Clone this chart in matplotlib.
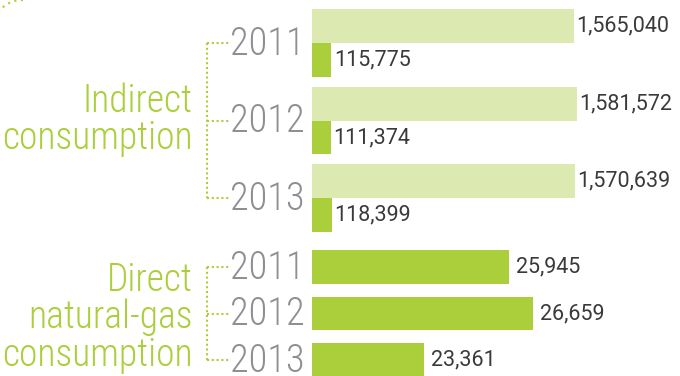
import os
import numpy as np
import matplotlib
matplotlib.use("Agg")
import matplotlib.pyplot as plt
from matplotlib import font_manager as fm
from matplotlib.transforms import blended_transform_factory, ScaledTranslation

# --- data -------------------------------------------------------------
years = ["2011", "2012", "2013"]
indirect_total = [1565040, 1581572, 1570639]   # total indirect consumption
indirect_gas = [115775, 111374, 118399]        # natural-gas share of it
direct_gas = [25945, 26659, 23361]             # direct natural-gas consumption
group_labels = ["Indirect\nconsumption", "Direct\nnatural-gas\nconsumption"]

# --- style ------------------------------------------------------------
LIGHT = "#dce9b1"
GREEN = "#abce3b"
GRAY = "#8e8f93"
TEXT = "#3a3a3a"

W, H = 680, 376
DIRECT_BASE = 20000


def narrow_font():
    prefs = ["RobotoCondensed-Light", "RobotoCondensed-Regular", "RobotoCondensed",
             "LiberationSansNarrow-Regular", "LiberationSansNarrow",
             "DejaVuSansCondensed.ttf", "Condensed", "Narrow"]
    for key in prefs:
        for f in fm.fontManager.ttflist:
            base = os.path.basename(f.fname)
            if key in base:
                if any(s in base for s in ("Italic", "Oblique", "Bold", "Black", "Medium", "Thin")):
                    continue
                return f.fname
    return None


NARROW = narrow_font()


def label_props(size):
    if NARROW:
        return fm.FontProperties(fname=NARROW, size=size * 1.15)
    return fm.FontProperties(family="Roboto", weight="light", size=size)


fig = plt.figure(figsize=(W / 100, H / 100), dpi=100)


def rect(x0, y0, x1, y1):
    return [x0 / W, 1 - y1 / H, (x1 - x0) / W, (y1 - y0) / H]


# overlay in pixel units for labels and connectors
ov = fig.add_axes([0, 0, 1, 1])
ov.set_xlim(0, W)
ov.set_ylim(H, 0)
ov.axis("off")

# --- indirect consumption bars -----------------------------------------
P = 2.28
idx = np.arange(len(years))
ax1 = fig.add_axes(rect(312, 9, 680, 232))
ax1.set_xlim(0, 2.2e6)
ax1.set_ylim(2 * P + 1, -1)
ax1.axis("off")
b_tot = ax1.barh(idx * P - 0.5, indirect_total, height=1, color=LIGHT)
b_gas = ax1.barh(idx * P + 0.5, indirect_gas, height=1, color=GREEN)
val_font = dict(family="Roboto", weight="normal", size=15.5, color=TEXT)
ax1.bar_label(b_tot, labels=[f"{v:,}" for v in indirect_total], padding=2, **val_font)
ax1.bar_label(b_gas, labels=[f"{v:,}" for v in indirect_gas], padding=2, **val_font)

# --- direct natural-gas bars --------------------------------------------
Q = 1.39
ax2 = fig.add_axes(rect(312, 250, 680, 377))
ax2.set_xlim(DIRECT_BASE, DIRECT_BASE + 11084)
ax2.set_ylim(2 * Q + 0.5, -0.5)
ax2.axis("off")
direct_arr = np.array(direct_gas)
b_dir = ax2.barh(idx * Q, direct_arr - DIRECT_BASE, left=DIRECT_BASE, height=1, color=GREEN)
ax2.bar_label(b_dir, labels=[f"{v:,}" for v in direct_gas], padding=5, **val_font)

# --- year labels, connectors and group titles ---------------------------
YEAR_SIZE = 24
GROUP_SIZE = 23.5
CAP = 0.711


def year_column(ax, centers):
    tr = blended_transform_factory(ov.transData, ax.transData)
    off = ScaledTranslation(0, -CAP * YEAR_SIZE / 2 / 72, fig.dpi_scale_trans)
    for y, lab in zip(centers, years):
        ov.text(305, y, lab, transform=tr + off, ha="right", va="baseline",
                color=GRAY, fontproperties=label_props(YEAR_SIZE))
    dots = dict(color=GREEN, lw=1.5, linestyle=(0, (1, 1.3)), transform=tr)
    ov.plot([207, 207], [centers[0], centers[-1]], **dots)
    for y in centers:
        ov.plot([207, 231], [y, y], **dots)


year_column(ax1, idx * P)
year_column(ax2, idx * Q)

ov.text(193, 119.5, group_labels[0], ha="right", va="center", linespacing=1.0,
        color=GREEN, fontproperties=label_props(GROUP_SIZE))
ov.text(193, 317.5, group_labels[1], ha="right", va="center", linespacing=1.0,
        color=GREEN, fontproperties=label_props(GROUP_SIZE))

# decorative dotted arc in the corner
t = np.linspace(np.radians(88), np.radians(150), 12)
ov.plot(22 + 29 * np.cos(t), 29 - 29 * np.sin(t), color=GREEN, lw=1.5,
        linestyle=(0, (1, 2.2)))

fig.savefig("out.png", dpi=100)
